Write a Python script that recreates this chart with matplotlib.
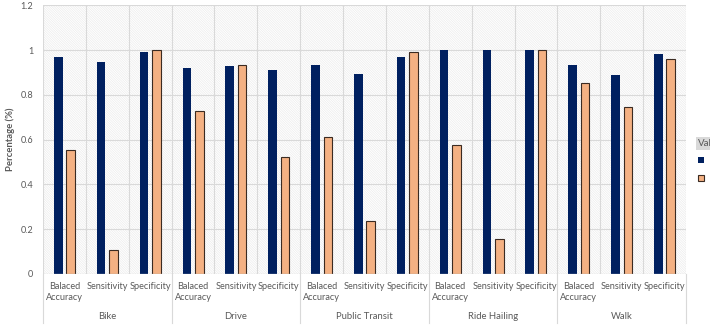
import matplotlib as mpl
import matplotlib.pyplot as plt
import matplotlib.transforms as mtransforms
from matplotlib.patches import Rectangle
import numpy as np

# values
groups = ['Bike', 'Drive', 'Public Transit', 'Ride Hailing', 'Walk']
metrics = ['Balaced\nAccuracy', 'Sensitivity', 'Specificity']
series_a = [0.970, 0.945, 0.993,
            0.919, 0.930, 0.909,
            0.935, 0.894, 0.970,
            0.999, 1.000, 0.999,
            0.935, 0.887, 0.981]
series_b = [0.552, 0.107, 0.999,
            0.729, 0.935, 0.521,
            0.614, 0.236, 0.990,
            0.578, 0.158, 1.000,
            0.851, 0.746, 0.958]
series_names = ['Model', 'Baseline']
legend_title = 'Values'

mpl.rcParams['font.family'] = ['Lato', 'DejaVu Sans']
mpl.rcParams['hatch.linewidth'] = 0.5
txt = '#595959'
grid_c = '#d9d9d9'

fig = plt.figure(figsize=(7.1, 3.32), dpi=100)
ax = fig.add_axes([0.0606, 0.1747, 0.9056, 0.8094])

n = len(series_a)
x = np.arange(n)
ax.add_patch(Rectangle((0, 0), 1, 1, transform=ax.transAxes, facecolor='white',
                       hatch='\\' * 14, edgecolor='#ececec', linewidth=0, zorder=0))

w = 0.2
ha = ax.bar(x - 0.145, series_a, w, color='#002060', zorder=2, label=series_names[0])
hb = ax.bar(x + 0.145, series_b, w, color='#F4B183', edgecolor='#3b2b22',
            linewidth=0.8, zorder=2, label=series_names[1])

ax.set_xlim(-0.5, n - 0.5)
ax.set_ylim(0, 1.2)
ax.set_yticks(np.arange(0, 1.21, 0.2))
ax.set_yticklabels(['0', '0.2', '0.4', '0.6', '0.8', '1', '1.2'])
ax.set_xticks(x)
ax.set_xticklabels(metrics * len(groups))
ax.tick_params(axis='both', length=0, labelsize=6.6, colors=txt)
ax.tick_params(axis='x', pad=6)
ax.tick_params(axis='y', pad=7)

for v in np.arange(0.2, 1.21, 0.2):
    ax.axhline(v, color=grid_c, linewidth=0.8, zorder=1)
for b in np.arange(-0.5, n, 1):
    ax.axvline(b, color=grid_c, linewidth=0.8, zorder=1)

for s in ax.spines.values():
    s.set_visible(False)
ax.axhline(0, color=grid_c, linewidth=0.9, zorder=3)

ax.set_ylabel('Percentage (%)', fontsize=6.8, fontweight='bold', color=txt, labelpad=4)

# group labels and separators below the axis
trans = mtransforms.blended_transform_factory(ax.transData, ax.transAxes)
for i, g in enumerate(groups):
    ax.text(i * 3 + 1, -0.159, g, transform=trans, ha='center', va='center',
            fontsize=6.8, color=txt)
for i in range(len(groups) + 1):
    ax.plot([i * 3 - 0.5, i * 3 - 0.5], [0, -0.182], transform=trans,
            color=grid_c, linewidth=0.8, clip_on=False)

leg = ax.legend(handles=[ha, hb], labels=series_names, title=legend_title,
                loc='center left', bbox_to_anchor=(1.005, 0.42), frameon=False,
                fontsize=7, title_fontsize=7, handlelength=0.6, handleheight=0.6,
                alignment='left', labelspacing=0.9)
leg.get_title().set_color(txt)
leg.get_title().set_bbox(dict(facecolor='#d9d9d9', edgecolor='none', pad=1.5))

fig.savefig('out.png', dpi=100)
